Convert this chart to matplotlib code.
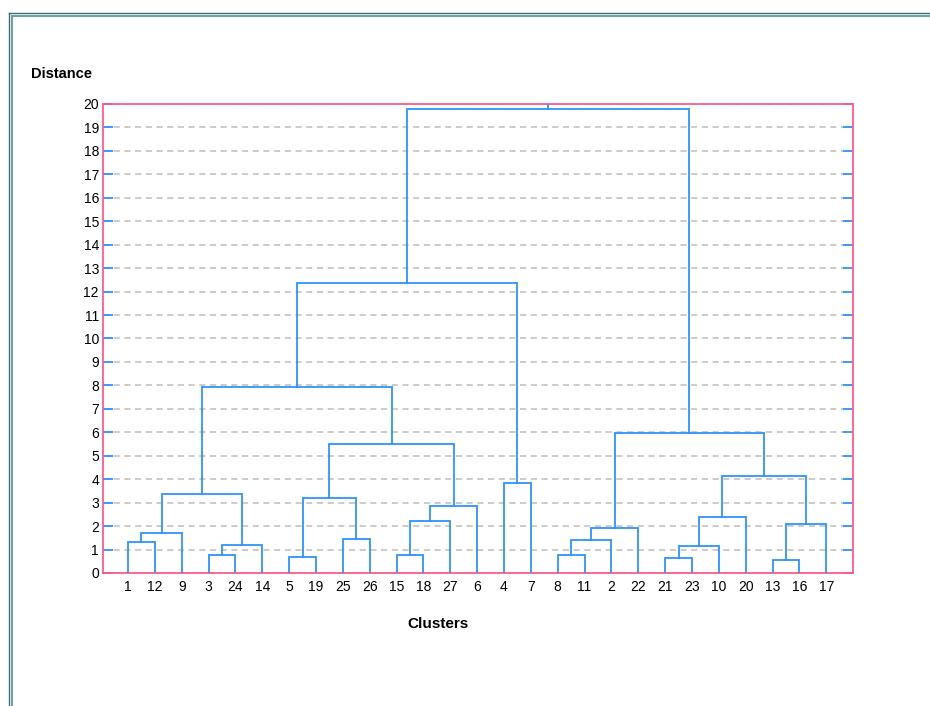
import matplotlib
matplotlib.use("Agg")
import matplotlib.pyplot as plt
from matplotlib.lines import Line2D

plt.rcParams['font.family'] = ['Liberation Sans', 'DejaVu Sans']

# leaf labels in display order
leaves = ['1', '12', '9', '3', '24', '14', '5', '19', '25', '26', '15', '18', '27', '6',
          '4', '7', '8', '11', '2', '22', '21', '23', '10', '20', '13', '16', '17']

# merges: (left node, right node, distance); leaves are 0..26, new nodes 27, 28, ...
merge_left = [0, 27, 3, 29, 28, 6, 8, 32, 10, 35, 36, 34, 31, 14, 39,
              16, 42, 43, 20, 45, 46, 24, 48, 47, 44, 41]
merge_right = [1, 2, 4, 5, 30, 7, 9, 33, 11, 12, 13, 37, 38, 15, 40,
               17, 18, 19, 21, 22, 23, 25, 26, 49, 50, 51]
merge_dist = [1.33, 1.72, 0.77, 1.21, 3.38, 0.70, 1.46, 3.20, 0.77, 2.23, 2.87, 5.50, 7.95, 3.82, 12.35,
              0.77, 1.39, 1.92, 0.63, 1.15, 2.37, 0.55, 2.09, 4.15, 5.96, 19.77]

yticks = list(range(0, 21))

line_c = '#2f93fa'
frame_c = '#ff5a8c'

fig = plt.figure(figsize=(9.3, 7.06), dpi=100)
ax = fig.add_axes([0.1108, 0.1884, 0.8065, 0.6643])

# node positions
xpos = {i: i + 1 for i in range(len(leaves))}
ypos = {i: 0.0 for i in range(len(leaves))}
for k, (a, b, d) in enumerate(zip(merge_left, merge_right, merge_dist)):
    node = len(leaves) + k
    ax.plot([xpos[a], xpos[a], xpos[b], xpos[b]], [ypos[a], d, d, ypos[b]],
            color=line_c, lw=1.3, solid_joinstyle='miter', zorder=3)
    xpos[node] = (xpos[a] + xpos[b]) / 2
    ypos[node] = d
root = len(leaves) + len(merge_dist) - 1
ax.plot([xpos[root], xpos[root]], [ypos[root], 20], color=line_c, lw=1.3, zorder=3)

ax.set_xlim(0.07, 28.0)
ax.set_ylim(0, 20)
ax.set_yticks(yticks)
ax.set_yticklabels([str(t) for t in yticks], fontsize=10)
ax.set_xticks(range(1, len(leaves) + 1))
ax.set_xticklabels(leaves, fontsize=10)
ax.tick_params(axis='x', length=0, pad=5)
ax.tick_params(axis='y', direction='in', length=7, color=line_c, width=1.3,
               right=True, pad=3)
ax.grid(axis='y', color='#bdbdbd', linestyle=(0, (4, 3)), lw=1.1)
ax.set_axisbelow(True)
for s in ax.spines.values():
    s.set_color(frame_c)
    s.set_linewidth(1.3)

fig.text(31 / 930, 1 - 74.5 / 706, 'Distance', fontsize=10.5, fontweight='bold', va='center', ha='left')
fig.text(438 / 930, 1 - 624 / 706, 'Clusters', fontsize=11, fontweight='bold', va='center', ha='center')

# window border
fig.add_artist(Line2D([8.5 / 930, 8.5 / 930], [0, 1 - 12.5 / 706], color='#3f6f6f', lw=1.0, transform=fig.transFigure))
fig.add_artist(Line2D([8.5 / 930, 1], [1 - 12.5 / 706, 1 - 12.5 / 706], color='#3f6f6f', lw=1.0, transform=fig.transFigure))
fig.add_artist(Line2D([11.5 / 930, 11.5 / 930], [0, 1 - 15.5 / 706], color='#6fa3a3', lw=1.5, transform=fig.transFigure))
fig.add_artist(Line2D([11.5 / 930, 1], [1 - 15.5 / 706, 1 - 15.5 / 706], color='#6fa3a3', lw=1.5, transform=fig.transFigure))

fig.savefig('out.png', dpi=100)
